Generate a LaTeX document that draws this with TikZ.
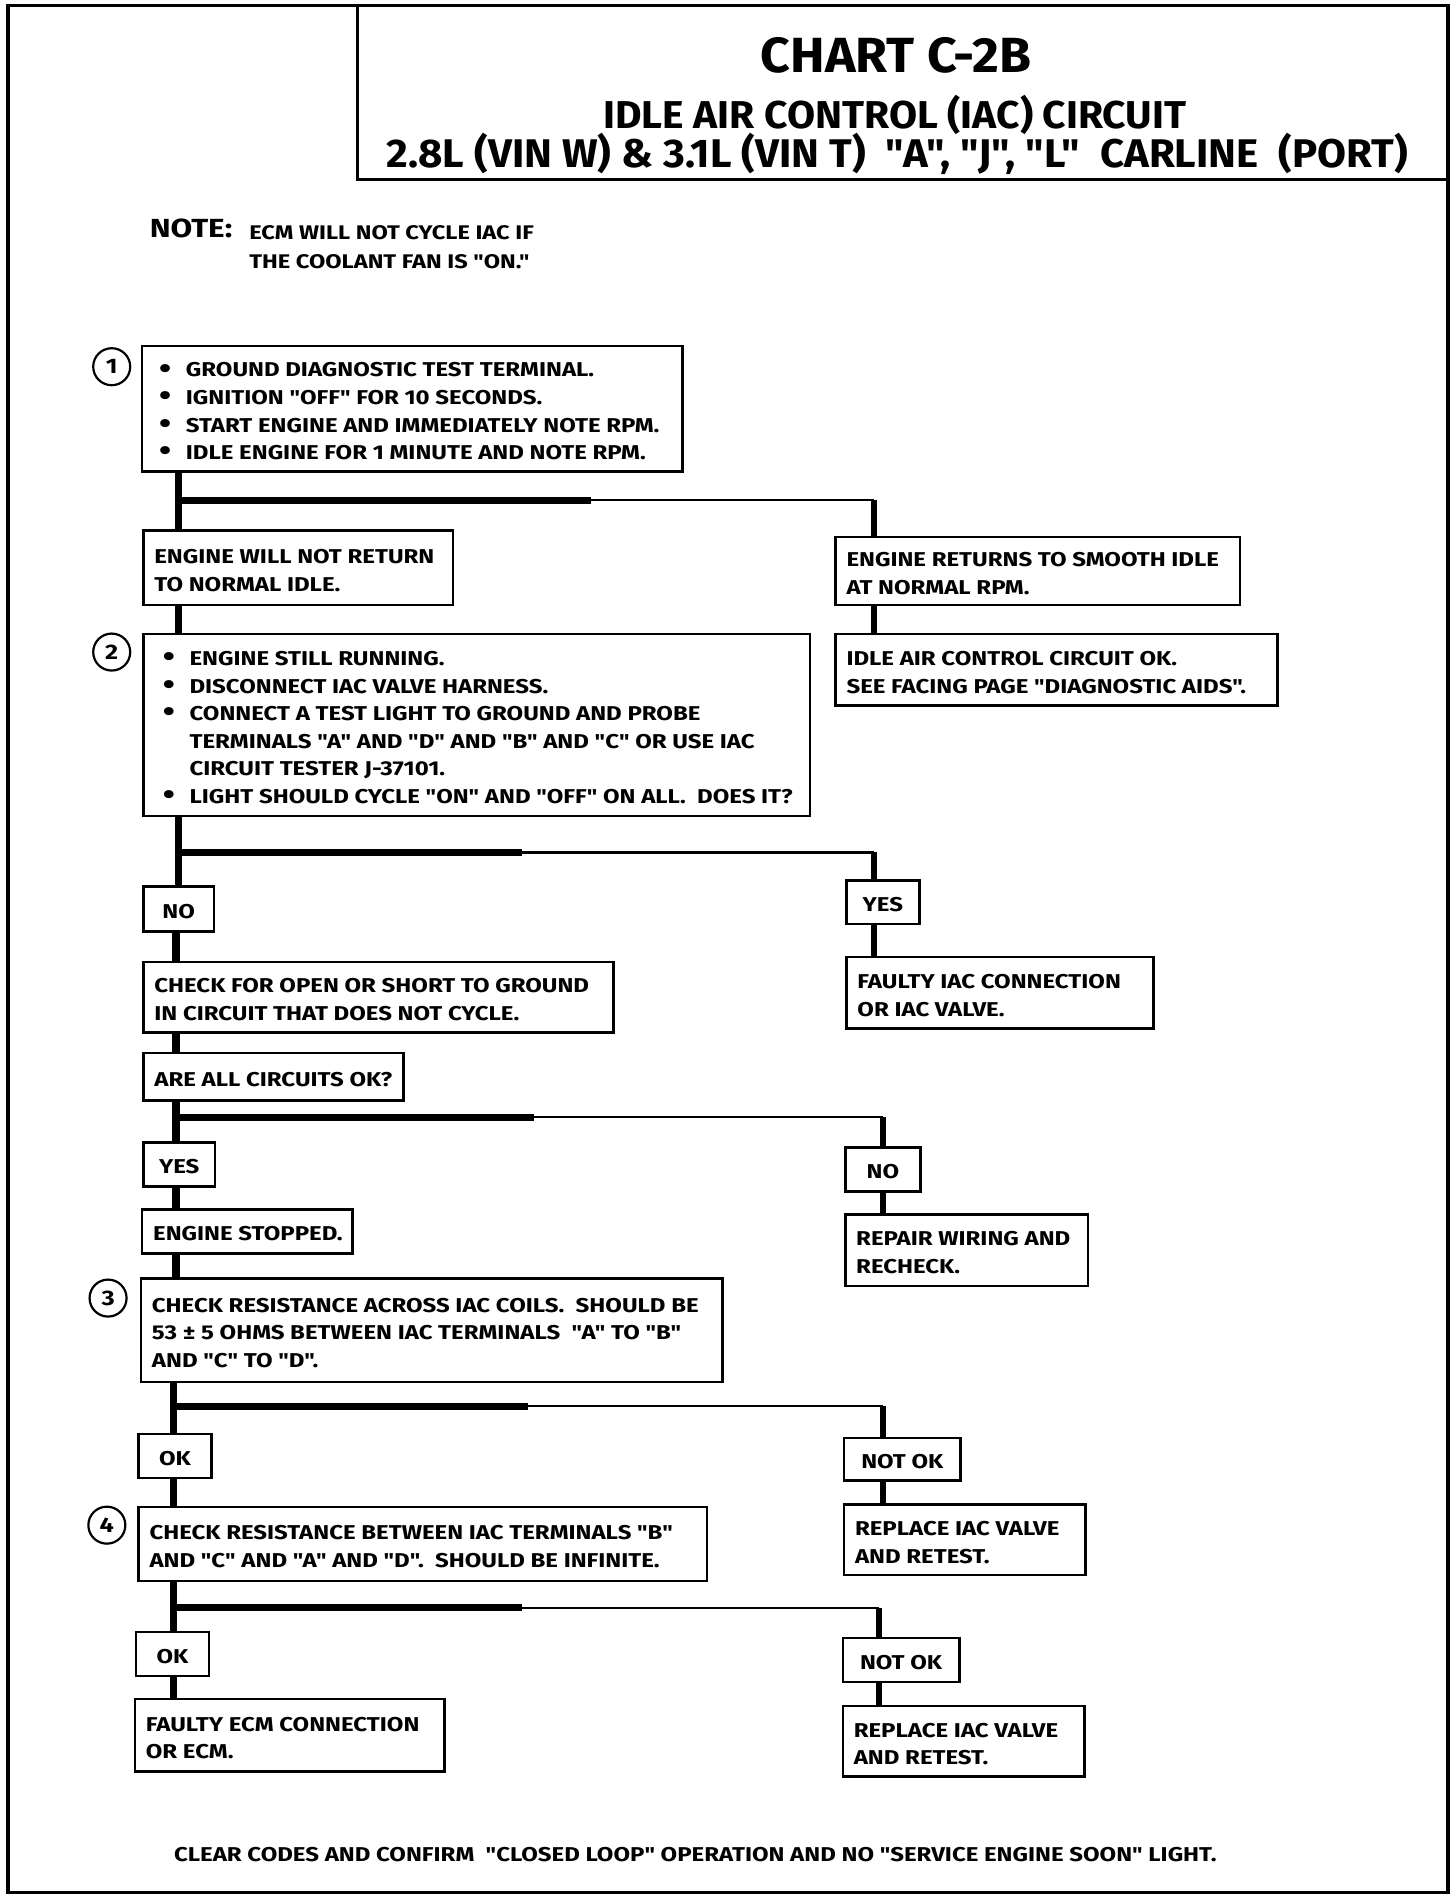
\documentclass[tikz,border=0pt]{standalone}
\usepackage{fontspec}
\setmainfont{Fira Sans}[FakeStretch=1.2, Ligatures=TeXOff]
\newfontfamily\titlefont{Fira Sans}[FakeStretch=1.05, Ligatures=TeXOff]
\newdimen\U \U=0.60717pt
\tikzset{
  box/.style={draw, line width=1.3pt, inner sep=0pt, anchor=north west,
    font=\bfseries\fontsize{10}{13.8}\selectfont},
  lbl/.style={draw, line width=1.3pt, inner sep=0pt, anchor=north west, align=center,
    font=\bfseries\fontsize{10}{13.8}\selectfont},
  trunkline/.style={line width=3.6pt},
  thinline/.style={line width=1.1pt},
  vline/.style={line width=3pt},
  num/.style={circle, draw, line width=1.1pt, minimum size=18.5pt, inner sep=0pt,
    font=\bfseries\fontsize{10.5}{12}\selectfont},
  frame/.style={draw, line width=1.8pt},
  titletxt/.style={anchor=base, inner sep=0pt},
}
\newcommand\bx[6]{%
  \pgfmathsetlengthmacro\bw{(#4-#2)*\U}%
  \pgfmathsetlengthmacro\bh{(#5-#3)*\U}%
  \node[box, minimum width=\bw, minimum height=\bh] (#1) at (#2,#3)
    {\makebox[\bw][l]{\hspace{5.5pt}\raisebox{-2pt}[\height][\depth]{\begin{tabular}{@{}l@{}}#6\end{tabular}}}};}
\newcommand\lb[6]{%
  \pgfmathsetlengthmacro\bw{(#4-#2)*\U}%
  \pgfmathsetlengthmacro\bh{(#5-#3)*\U}%
  \node[lbl, minimum width=\bw, minimum height=\bh] (#1) at (#2,#3) {\raisebox{-1.2pt}[\height][\depth]{#6}};}
\newcommand\bul{\makebox[22\U][l]{\raisebox{-0.6pt}{\scalebox{1.45}{•}}}}
\newcommand\ind{\hspace*{22\U}}
\begin{document}
\begin{tikzpicture}[x=0.60717pt, y=-0.60717pt]
\useasboundingbox (0,0) rectangle (1199,1568);
% outer frame and title box
\node[frame, rectangle, anchor=north west, minimum width=1186*0.60717pt, minimum height=1554*0.60717pt, inner sep=0pt] (outer) at (5,3) {};
\node[frame, rectangle, anchor=north west, minimum width=898*0.60717pt, minimum height=144*0.60717pt, inner sep=0pt, line width=1.5pt] (titlebox) at (293,3) {};
\node[titletxt, font=\titlefont\bfseries\fontsize{24.7}{26}\selectfont] (t1) at (738,60) {CHART C-2B};
\node[titletxt, font=\titlefont\bfseries\fontsize{19.4}{21}\selectfont] (t2) at (737,106) {IDLE AIR CONTROL (IAC) CIRCUIT};
\node[titletxt, font=\titlefont\bfseries\fontsize{20}{21}\selectfont] (t3) at (739,138) {2.8L (VIN W) \& 3.1L (VIN T)\ \ "A", "J", "L"\ \ CARLINE\ \ (PORT)};
% note
\node[anchor=base west, inner sep=0pt, font=\bfseries\fontsize{13.1}{15}\selectfont] (note) at (123,196) {NOTE:};
\node[anchor=base west, inner sep=0pt, font=\bfseries\fontsize{9.85}{11}\selectfont] (note1) at (205,197) {ECM WILL NOT CYCLE IAC IF};
\node[anchor=base west, inner sep=0pt, font=\bfseries\fontsize{9.85}{11}\selectfont] (note2) at (205,221) {THE COOLANT FAN IS "ON."};
% step numbers
\node[num] (n1) at (92,302) {1};
\node[num] (n2) at (92,537) {2};
\node[num] (n3) at (89,1069) {3};
\node[num] (n4) at (88,1256) {4};
% boxes
\bx{b1}{116}{284}{561}{387}{%
 \hspace*{5\U}\bul GROUND DIAGNOSTIC TEST TERMINAL.\\
 \hspace*{5\U}\bul IGNITION "OFF" FOR 10 SECONDS.\\
 \hspace*{5\U}\bul START ENGINE AND IMMEDIATELY NOTE RPM.\\
 \hspace*{5\U}\bul IDLE ENGINE FOR 1 MINUTE AND NOTE RPM.}
\bx{e1}{117}{436}{372}{497}{ENGINE WILL NOT RETURN\\TO NORMAL IDLE.}
\bx{r1}{687}{441}{1020}{497}{ENGINE RETURNS TO SMOOTH IDLE\\AT NORMAL RPM.}
\bx{r2}{687}{521}{1051}{580}{IDLE AIR CONTROL CIRCUIT OK.\\SEE FACING PAGE "DIAGNOSTIC AIDS".}
\bx{b2}{117}{521}{666}{671}{%
 \hspace*{7\U}\bul ENGINE STILL RUNNING.\\
 \hspace*{7\U}\bul DISCONNECT IAC VALVE HARNESS.\\
 \hspace*{7\U}\bul CONNECT A TEST LIGHT TO GROUND AND PROBE\\
 \hspace*{7\U}\ind TERMINALS "A" AND "D" AND "B" AND "C" OR USE IAC\\
 \hspace*{7\U}\ind CIRCUIT TESTER J-37101.\\
 \hspace*{7\U}\bul LIGHT SHOULD CYCLE "ON" AND "OFF" ON ALL.\ \ DOES IT?}
\lb{no1}{117}{729}{175}{766}{NO}
\lb{yes1}{696}{724}{756}{760}{YES}
\bx{f1}{696}{787}{949}{846}{FAULTY IAC CONNECTION\\OR IAC\ VALVE.}
\bx{c1}{117}{791}{504}{849}{CHECK FOR OPEN OR SHORT TO GROUND\\IN CIRCUIT THAT DOES NOT CYCLE.}
\bx{q1}{117}{866}{331}{905}{ARE ALL CIRCUITS OK?}
\lb{yes2}{117}{940}{176}{976}{YES}
\lb{no2}{695}{944}{757}{980}{NO}
\bx{s1}{116}{995}{289}{1031}{ENGINE STOPPED.}
\bx{rw}{695}{999}{895}{1058}{REPAIR WIRING AND\\RECHECK.}
\bx{b3}{115}{1052}{594}{1137}{CHECK RESISTANCE ACROSS IAC COILS.\ \ SHOULD BE\\
 53 ± 5 OHMS BETWEEN IAC TERMINALS\ \ "A" TO "B"\\AND "C" TO "D".}
\lb{ok1}{113}{1180}{173}{1216}{OK}
\lb{nok1}{694}{1183}{790}{1218}{NOT OK}
\bx{b4}{113}{1240}{581}{1301}{CHECK RESISTANCE BETWEEN IAC TERMINALS "B"\\
 AND "C" AND "A" AND "D".\ \ SHOULD BE INFINITE.}
\bx{rp1}{694}{1238}{893}{1296}{REPLACE IAC VALVE\\AND RETEST.}
\lb{ok2}{111}{1343}{171}{1379}{OK}
\lb{nok2}{693}{1348}{789}{1384}{NOT OK}
\bx{fe}{110}{1398}{365}{1458}{FAULTY ECM CONNECTION\\OR ECM.}
\bx{rp2}{693}{1404}{892}{1462}{REPLACE IAC VALVE\\AND RETEST.}
\node[anchor=base west, inner sep=0pt, font=\bfseries\fontsize{10}{12}\selectfont] (clear) at (143,1533)
 {CLEAR CODES AND CONFIRM\ \ "CLOSED LOOP" OPERATION AND NO "SERVICE ENGINE SOON" LIGHT.};
% trunk coordinates
\coordinate (ta) at (147,0);
\coordinate (tb) at (145,0);
\coordinate (tc) at (143,0);
% branch 1
\coordinate (j1) at (147,412); \coordinate (m1) at (487,412); \coordinate (k1) at (720,412);
\draw[trunkline] (b1.south -| ta) -- (e1.north -| ta);
\draw[trunkline] (j1) -- (m1);
\draw[thinline] (m1) -- (k1);
\draw[vline] (k1) -- (r1.north -| k1);
\draw[vline] (r1.south -| k1) -- (r2.north -| k1);
\draw[trunkline] (e1.south -| ta) -- (b2.north -| ta);
% branch 2
\coordinate (j2) at (147,702); \coordinate (m2) at (430,702); \coordinate (k2) at (720,702);
\draw[trunkline] (b2.south -| ta) -- (no1.north -| ta);
\draw[trunkline] (j2) -- (m2);
\draw[thinline] (m2) -- (k2);
\draw[vline] (k2) -- (yes1.north -| k2);
\draw[vline] (yes1.south -| k2) -- (f1.north -| k2);
\draw[trunkline] (no1.south -| tb) -- (c1.north -| tb);
\draw[trunkline] (c1.south -| tb) -- (q1.north -| tb);
% branch 3
\coordinate (j3) at (145,920); \coordinate (m3) at (440,920); \coordinate (k3) at (727,920);
\draw[trunkline] (q1.south -| tb) -- (yes2.north -| tb);
\draw[trunkline] (j3) -- (m3);
\draw[thinline] (m3) -- (k3);
\draw[vline] (k3) -- (no2.north -| k3);
\draw[vline] (no2.south -| k3) -- (rw.north -| k3);
\draw[trunkline] (yes2.south -| tb) -- (s1.north -| tb);
\draw[trunkline] (s1.south -| tb) -- (b3.north -| tb);
% branch 4
\coordinate (j4) at (144,1158); \coordinate (m4) at (435,1158); \coordinate (k4) at (727,1158);
\draw[trunkline] (b3.south -| tc) -- (ok1.north -| tc);
\draw[trunkline] (j4) -- (m4);
\draw[thinline] (m4) -- (k4);
\draw[vline] (k4) -- (nok1.north -| k4);
\draw[vline] (nok1.south -| k4) -- (rp1.north -| k4);
\draw[trunkline] (ok1.south -| tc) -- (b4.north -| tc);
% branch 5
\coordinate (j5) at (143,1324); \coordinate (m5) at (430,1324); \coordinate (k5) at (724,1324);
\draw[trunkline] (b4.south -| tc) -- (ok2.north -| tc);
\draw[trunkline] (j5) -- (m5);
\draw[thinline] (m5) -- (k5);
\draw[vline] (k5) -- (nok2.north -| k5);
\draw[vline] (nok2.south -| k5) -- (rp2.north -| k5);
\draw[trunkline] (ok2.south -| tc) -- (fe.north -| tc);
\end{tikzpicture}
\end{document}
